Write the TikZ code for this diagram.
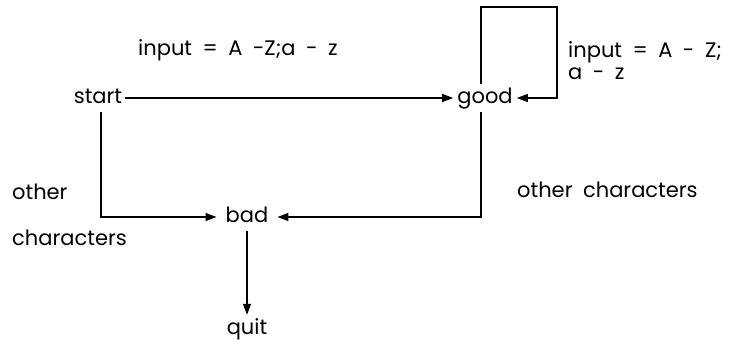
\documentclass[tikz,border=0pt]{standalone}
\usepackage{fontspec}
\setmainfont{Poppins}
\usetikzlibrary{arrows.meta}
\newcommand\diafont{\fontsize{21}{22}\selectfont\spaceskip 10.5pt\relax}
\begin{document}
\begin{tikzpicture}[x=1pt,y=-1pt,
  every node/.style={font=\diafont},
  st/.style={anchor=base, text height=14pt, text depth=4pt, inner ysep=5pt, inner xsep=3pt},
  lbl/.style={anchor=west, inner sep=0pt},
  arr/.style={-{Triangle[length=11pt,width=8pt]}, line width=1.3pt}]
\useasboundingbox (0,0) rectangle (736,343);
\node[st] (start) at (98,103) {start};
\node[st, inner xsep=4pt] (good) at (485,103) {good};
\node[st, inner xsep=9pt] (bad) at (247,222) {bad};
\node[st] (quit) at (247,334) {quit};
\coordinate (s1) at (101,216);
\coordinate (g1) at (481,7);
\coordinate (g2) at (557,7);
\coordinate (g3) at (481,216);
\node[lbl] (l1) at (138,50) {input = A -Z;a - z};
\node[lbl, align=left] (l2) at (568,61) {input = A - Z;\\a - z};
\node[lbl] (l3) at (12,192) {other};
\node[lbl] (l4) at (12,238) {characters};
\node[lbl] (l5) at (517,190) {other characters};
\draw[arr] (start.east) -- (good.west);
\draw[arr] (good.north -| g1) -- (g1) -- (g2) |- (good.east);
\draw[arr] (start.south -| s1) |- (bad.west);
\draw[arr] (good.south -| g3) |- (bad.east);
\draw[arr] (bad.south) -- (quit.north);
\end{tikzpicture}
\end{document}
